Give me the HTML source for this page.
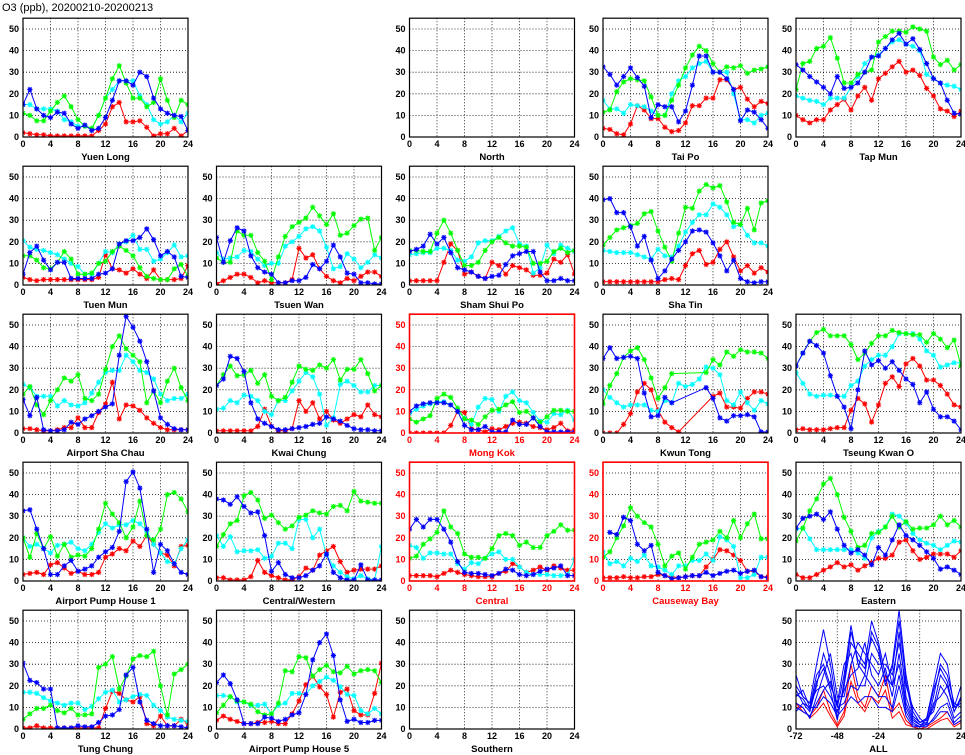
<!DOCTYPE html>
<html><head><meta charset="utf-8">
<style>
html,body{margin:0;padding:0;background:#fff;}
svg{display:block;font-family:"Liberation Sans",sans-serif;}
.tk{font-size:9px;font-weight:bold;fill:#000;}
.nm{font-size:9.5px;font-weight:bold;fill:#000;}
</style></head>
<body>
<svg id="chart" width="965" height="755" viewBox="0 0 965 755">
<text x="2" y="11" style="font-size:11px">O3 (ppb), 20200210-20200213</text>
</svg>
<script>
const seriesColors = ["#ff0000","#00ffff","#00ff00","#0000ff"];
const hours = [0,1,2,3,4,5,6,7,8,9,10,11,12,13,14,15,16,17,18,19,20,21,22,23,24];
const xTicks = [0,4,8,12,16,20,24];
const yTicks = [0,10,20,30,40,50];
const allXTicks = [-72,-48,-24,0,24];
const N = null;

const yuenLongR=[2,1.5,1,1,0.5,0.5,0.5,0.5,0.5,0.5,0.5,3,6,14,16,7,7,7.5,4.5,0.5,1.5,1.5,4,0.5,3];
const yuenLongC=[15,15,13,13,13,12,8,7,5,5,4,10,18,22,26,26,26,19,15,8,6,7,10,7,11];
const yuenLongG=[11,10,7.5,7.5,12,16,19,14,8,5,4,10,18,27,33,25,18,18,14,16,27,17,9,17,15];
const yuenLongB=[15,22,13,10,9,11.5,11,6,4,5.5,3,4,9,17,26,26,24,30,28,18,13,11,10,9.5,3];

const taiPoR=[4,3.5,1.5,1,6,14.5,12.5,8.5,8.5,4.5,2.5,3,6.5,14.5,14.5,18,18,26.5,26.5,22,23,17.5,14,16.5,15.5];
const taiPoC=[17,13,13,11,15,14.5,14,12,10,10,20,26,28,32,34,35,30,30,30,20,8,8,6.5,10,11];
const taiPoG=[11.5,12.5,21,25.5,27,26.5,26,18.5,10,10,17,24,32,38,42,40,34,30,32.5,32,33,29.5,31,31.5,32.5];
const taiPoB=[32.5,29,24,28,32,27.5,23.5,9,15,14,14,7,12,24,37.5,37.5,30,30,27,22,7.5,12.5,11.5,8,4];

const tapMunR=[10,8,6.5,8,8,12.5,15,17.5,12.5,19,23,17,27,29.5,32.5,35,30,31,28.5,22.5,19,13,12,9.5,12];
const tapMunC=[19,18,17,16.5,15,18,18,18,23,28,34,37,38,41,44,45,43,42,40,29,27,25,24,23.5,22];
const tapMunG=[22,34,35,41,42,46,36.5,25,25,29,30,31,44,46.5,49,49,48.5,51,50,49,37,33.5,35.5,31,33.5];
const tapMunB=[33.5,31,28,25.5,23,20,28,22.5,23,25,30,37,37.5,41,45,48,43,45.5,40.5,34,27,25,17,11,10.5];

const tuenMunR=[3.5,2.5,2,2.5,2.5,2.5,2.5,2.5,2.5,2.5,2.5,3.5,14,7.5,7,5.5,7.5,5,3,7,2.5,2.5,2.5,3,9];
const tuenMunC=[20.5,17.5,16.5,16,15,14,12,10,8.5,5,5,10,15.5,15,19,20,23,16.5,16.5,11,12,15,18.5,13,13.5];
const tuenMunG=[13.5,13.5,11.5,8,7.5,10.5,15.5,12,5,5,5.5,10,11,15.5,18,16,13.5,8,4,3,2.5,2.5,7.5,9.5,4];
const tuenMunB=[5,15,18,11.5,7,10.5,10.5,3,3,3,3,5,5.5,7.5,19,20.5,20.5,22,26,21,13.5,15.5,13,4,3.5];

const tsuenWanR=[0.5,2,3.5,5,5,3.5,1,2,1,1,1,2.5,17,12.5,14,7.5,4,2,1,3,2,4,6,6,4];
const tsuenWanC=[15,12,12.5,13,16,15.5,12,9,10,10,18,20,22.5,26,27,25,17.5,7.5,8.5,14.5,12,8,10.5,14,12.5];
const tsuenWanG=[12.5,10.5,10.5,25,23,23,15,11,2.5,13,22.5,27,29,31,36,32,28,33,23,24,27.5,30.5,31,16,22];
const tsuenWanB=[22,10.5,20.5,26.5,25,13.5,8,6,5,1,1,2,2,3.5,9.5,7.5,11,18.5,13,5.5,5,1,1,0.5,0.5];

const shamShuiPoR=[2,2,2,2,2,10.5,19,16,5,6,4,3,10.5,9,5,9,8,7,4.5,4.5,5.5,12,10.5,14,5];
const shamShuiPoC=[14,14.5,15,15,17,17,16,11.5,11,13,19.5,20.5,20.5,22.5,25,26.5,19,18,5.5,8,18.5,14.5,18.5,17,15.5];
const shamShuiPoG=[16,16,15.5,15.5,24,30,24,16,9,9,10.5,16,20,22,19.5,18,18,17.5,10,10,11,15.5,17,15,16];
const shamShuiPoB=[15.5,16.5,18,23.5,19,22,15,8,7,6,4,3,4,4.5,9.5,13.5,14.5,15.5,15.5,6,2,2,3,2,2];

const shaTinR=[1.5,1.5,1.5,1.5,1.5,1.5,1.5,1.5,1.5,2.5,3,2.5,9,14.5,16,9.5,10.5,16.5,20,13,6.5,9,5.5,8,6];
const shaTinC=[16,15.5,15,15,15,14,13,12,16.5,13.5,13,18,24.5,29,32.5,32.5,37.5,36,32.5,27,28,23,19.5,19.5,18];
const shaTinG=[18.5,22,25.5,26.5,27.5,28.5,33,34,25,17.5,11,24,36,35.5,43.5,46.5,45,46,38.5,29,28,35.5,25.5,38,39];
const shaTinB=[39.5,40,33.5,33.5,27,18,22.5,11.5,3,6.5,12,16,20,25,25.5,24.5,19.5,13.5,6.5,11.5,3,1.5,1,1.5,1.5];

const shaChauR=[2,2,1.5,1,1,1.5,2.5,2.5,7,2.5,2.5,9.5,13.5,23.5,6.5,13,12.5,10.5,7,4.5,2.5,1.5,1.5,1.5,1.5];
const shaChauC=[22.5,21,17,17,17,12.5,15,13,12.5,14,18.5,23.5,28,29,29,36,33,29,28,25,18,15,16,16,18];
const shaChauG=[18,21.5,13,8.5,15,20,25.5,24,27,16,15,18,29.5,40,45,39,36,33,14,19.5,14,24,30,21,15];
const shaChauB=[15.5,8,16.5,1.5,1,1,1.5,5,4,6.5,8,10,12,13.5,36,54,49,42.5,33,19.5,7,4,2,1.5,1.5];

const kwaiChungR=[1,1,1,1,1,1,3,11,3,1,1,2,15,10,14,6.5,10,6,4.5,6.5,8.5,7.5,13,8.5,7.5];
const kwaiChungC=[11,11.5,15,14,17.5,17,15,10,8.5,15,15,19.5,24,28,26,18,3.5,7,22.5,24,22,19,19,22,22];
const kwaiChungG=[22,27,31,26.5,27,29,23,27,17,15,16.5,23.5,31,29.5,29,31.5,30,34,24.5,29.5,29.5,34,27.5,19.5,22];
const kwaiChungB=[22,25,35.5,34.5,28.5,14,6.5,4.5,3,1.5,1.5,2,2.5,3,4,4.5,7.5,6.5,5.5,3.5,2,1.5,1.5,1,1];

const mongKokR=[0,0,0,0,0,0,3.5,10,9.5,2,1.5,0.5,2,1.5,3,4.5,5,4.5,3,2.5,1.5,2.5,4.5,1,1.5];
const mongKokC=[9,11,12.5,13.5,14.5,14.5,13,10,7,4,12,16,15.5,10,17,19,15,14,9.5,5.5,5,9,8.5,10.5,6];
const mongKokG=[6.5,5,6.5,8,16,18,16.5,11.5,6.5,6,4,7.5,10.5,11,13,14.5,9.5,10,7,5,7.5,10.5,10.5,10,10];
const mongKokB=[10,12.5,13.5,14,14,14,13,10,3.5,1.5,1.5,3,0.5,0.5,0.5,6,4,4,7,3,0.5,0.5,0.5,0.5,0.5];

const kwunTongR=[0,0,0,4,9,19,23,20,10.5,5,2.5,0.5,N,N,N,N,17,18.5,12,12,11.5,16,19,19,18];
const kwunTongC=[20,16.5,14,12,13,13,13,10.5,10,15,14,23,21.5,22.5,25,30.5,30,27,15,13,19,14,10.5,15,13.5];
const kwunTongG=[13.5,22,27.5,35,38,39.5,34,25.5,16,21,27.5,N,N,N,N,28,34,31.5,37.5,35.5,38.5,37.5,37.5,37,34.5];
const kwunTongB=[34.5,39.5,34.5,35,35.5,34.5,18.5,7.5,8,16.5,14,N,N,N,N,21,16,7,5.5,8,8,8.5,7.5,0.5,0.5];

const tkoR=[1.5,2,1.5,1.5,1.5,2,2.5,2.5,10.5,16,13.5,5,13,23,26,21.5,32,34.5,31,24.5,24.5,22,18,13,12];
const tkoC=[28,23,18,17,17.5,17.5,17,17,22,24,31,34,36,36,40,46,46,46,43.5,38,36,30.5,31.5,32.5,32.5];
const tkoG=[31,37,42.5,46.5,48,45,45,45,41,34,37,41.5,45,45,47.5,46.5,46,45.5,45.5,42,46,43.5,39.5,43,31];
const tkoB=[31,37,42.5,40.5,37,26.5,17,12,2,20,38,31.5,33.5,30,33,29,25,22.5,14,19,11,7.5,7.5,5.5,1.5];

const ph1R=[3,3.5,4,3,7.5,8.5,6,3.5,4.5,3,3,4,11,12.5,15,14,18.5,16,21,17,13,12,7,16,16.5];
const ph1C=[20,16,17,15,13,16.5,17,18,15,14,17,22.5,26.5,24.5,26,26,28,26.5,23,17,13,9,8,15,19];
const ph1G=[20,11,22,15,20.5,11.5,17,11,12,11.5,15,24,36,31,27,20,25,37,21,19,24,40,41,38,32];
const ph1B=[32.5,33,24,15,3,3,7,9.5,4.5,5.5,7,11,13.5,15.5,23,46,50.5,43,24,4,17,14,8,4,3];

const cwR=[1.5,1.5,0.5,0.5,0.5,2,9.5,4,2.5,1.5,0.5,0.5,2,6,5,12,14,16,9,4,5,5.5,5.5,5.5,7];
const cwC=[21,16,20.5,13.5,14,14,14.5,10.5,11.5,17.5,17.5,15,28.5,28.5,20,24,12,7,4,2,1,2.5,1,0.5,16];
const cwG=[16,21.5,26.5,28,39.5,41,37.5,29,30.5,27,24,25.5,29.5,30.5,32.5,31.5,31,34.5,35,32.5,41.5,37,36.5,36,36];
const cwB=[38,37.5,35.5,39,34.5,31.5,32,21,4.5,8.5,3,1.5,1.5,2.5,5,7,12.5,4,1.5,0.5,0.5,7.5,0.5,0.5,0.5];

const centralR=[2.5,2.5,2.5,2.5,2,3.5,5,4,3,2.5,2,2,2,3.5,4.5,8,6.5,4,5,6.5,5,7,6,5,5];
const centralC=[16.5,15.5,10.5,13,13,12.5,12.5,8,5.5,8.5,8,10.5,12.5,13.5,10,10,6.5,4,3,3,3,2.5,2.5,3,10];
const centralG=[10.5,11.5,17,19.5,22.5,32.5,25,22,12.5,11,11,10.5,15,21,22,21,16.5,18,15.5,15.5,21,23,26,23.5,23.5];
const centralB=[24,28.5,25,28.5,28.5,24,18,9,4,3.5,3.5,3,2.5,3.5,5.5,5,3,2.5,3,4.5,5.5,6,7,2.5,2.5];

const cbR=[1.5,1.5,1.5,2,1.5,1.5,2,2,3,2.5,2,1.5,2,2.5,2.5,6.5,10,14.5,14,12,9.5,4.5,4.5,2,2];
const cbC=[13.5,8,9,7,10.5,9,12,7,6.5,5,3,7,7,9.5,9.5,12.5,9.5,20.5,19,16,1.5,1.5,3,11,11];
const cbG=[11,13.5,20,25.5,34,30,27,25,17,7,11.5,13,5.5,11,17,18,19,23,20,28,20,26.5,31,19.5,19.5];
const cbB=[N,22.5,21.5,29.5,28,17,14,16.5,4,2.5,1,1.5,2,2.5,2.5,4,2.5,3.5,4.5,5,3.5,4.5,5,2,1.5];

const easternR=[3,1.5,1.5,3,5,6.5,8.5,6.5,7.5,5,7,8.5,10.5,10.5,12,18,19,14,10,11,12.5,12.5,12.5,11,14];
const easternC=[24,24.5,19.5,14.5,14.5,14.5,14.5,14.5,14.5,13,10.5,20,23,25,31,30,27,22,19,17.5,16.5,14.5,16.5,18.5,18];
const easternG=[18.5,24.5,32.5,38,45,47.5,40,29.5,23,15.5,16.5,22,22.5,25,30,25,27.5,24,24.5,24.5,26,30,26,28,25];
const easternB=[24.5,29,30,31,28.5,32,24,16.5,13,14.5,12,7.5,15.5,12,19,26,21,19,16.5,13.5,10.5,5.5,6.5,5,3];

const tungChungR=[0.5,0.5,1.5,0.5,0.5,0.5,0.5,0.5,0.5,0.5,0.5,0.5,9.5,17.5,16.5,13.5,12.5,15,2.5,1.5,6,1.5,1.5,4.5,2.5];
const tungChungC=[17,17,16.5,14.5,13,12,11,12,12,9,10.5,14,17,18,12.5,13.5,15,16,15.5,11,8.5,5.5,4.5,4,3.5];
const tungChungG=[4.5,7,9.5,9.5,11,8.5,7.5,9.5,6.5,6.5,7,28.5,30,33.5,18.5,24.5,32.5,34,33.5,36,20,6.5,25.5,27.5,30];
const tungChungB=[30.5,22.5,21.5,18.5,18.5,0.5,0.5,0.5,1.5,1,1,3,6,6.5,9,25,28.5,12.5,4,2.5,1.5,1.5,1.5,1,0.5];

const ph5R=[4,6,4.5,3.5,2.5,2.5,3,3,3.5,2.5,2.5,7,13,20.5,24.5,19.5,16,5.5,17,18.5,8.5,6.5,6.5,16.5,30.5];
const ph5C=[15.5,15.5,15,12.5,12.5,11,11,11.5,7,11,12,16.5,16.5,16,20,22,24,22.5,19.5,16,15.5,8.5,7,9.5,7];
const ph5G=[7.5,11,15,13,12.5,11.5,8,6.5,7,12,27,26.5,33.5,33,24.5,27.5,29.5,26.5,26,29,25.5,27,27.5,27,21.5];
const ph5B=[21.5,25,21,13.5,2.5,2.5,2.5,5.5,5,3.5,4.5,6.5,7.5,16,32,40,44,34,13.5,3.5,4.5,3,3,4,4];

// ALL panel: hours -72..24 every 4h
const allHours=[-72,-68,-64,-60,-56,-52,-48,-44,-40,-36,-32,-28,-24,-20,-16,-12,-8,-4,0,4,8,12,16,20,24];
const allB1=[25,15,12,30,46,30,10,25,48,30,25,45,38,20,30,55,25,8,3,5,20,35,30,10,20];
const allB2=[18,12,8,20,35,25,5,20,40,35,30,50,40,25,20,45,15,5,2,3,10,25,20,8,15];
const allB3=[15,18,10,25,30,20,12,30,35,20,20,35,30,30,25,40,20,10,5,2,15,30,25,12,10];
const allB4=[12,10,5,15,25,35,15,15,30,40,35,30,25,35,20,30,10,3,1,5,8,20,15,5,8];
const allB5=[20,15,12,18,20,15,8,18,25,28,40,25,20,28,15,35,12,4,2,2,12,15,20,10,12];
const allB6=[10,8,6,12,18,22,10,12,20,18,25,20,15,15,10,25,8,2,1,1,5,10,12,3,6];
const allB7=[16,14,9,22,28,18,4,22,45,32,28,42,35,22,28,50,22,6,3,4,18,28,22,8,14];
const allB8=[8,12,10,10,15,12,6,10,15,12,15,15,10,10,8,20,6,1,1,2,4,8,8,2,4];
const allR1=[12,8,6,10,18,8,2,8,30,15,10,20,15,25,8,12,4,1,0,1,3,5,8,2,4];
const allR2=[10,10,5,8,12,6,1,6,22,12,8,15,12,18,5,8,2,1,0,0,2,4,5,1,3];

const panels=[
 {name:"Yuen Long",col:0,row:0,data:[yuenLongR,yuenLongC,yuenLongG,yuenLongB]},
 {name:"North",col:2,row:0,data:[]},
 {name:"Tai Po",col:3,row:0,data:[taiPoR,taiPoC,taiPoG,taiPoB]},
 {name:"Tap Mun",col:4,row:0,data:[tapMunR,tapMunC,tapMunG,tapMunB]},
 {name:"Tuen Mun",col:0,row:1,data:[tuenMunR,tuenMunC,tuenMunG,tuenMunB]},
 {name:"Tsuen Wan",col:1,row:1,data:[tsuenWanR,tsuenWanC,tsuenWanG,tsuenWanB]},
 {name:"Sham Shui Po",col:2,row:1,data:[shamShuiPoR,shamShuiPoC,shamShuiPoG,shamShuiPoB]},
 {name:"Sha Tin",col:3,row:1,data:[shaTinR,shaTinC,shaTinG,shaTinB]},
 {name:"Airport Sha Chau",col:0,row:2,data:[shaChauR,shaChauC,shaChauG,shaChauB]},
 {name:"Kwai Chung",col:1,row:2,data:[kwaiChungR,kwaiChungC,kwaiChungG,kwaiChungB]},
 {name:"Mong Kok",col:2,row:2,red:true,data:[mongKokR,mongKokC,mongKokG,mongKokB]},
 {name:"Kwun Tong",col:3,row:2,data:[kwunTongR,kwunTongC,kwunTongG,kwunTongB]},
 {name:"Tseung Kwan O",col:4,row:2,data:[tkoR,tkoC,tkoG,tkoB]},
 {name:"Airport Pump House 1",col:0,row:3,data:[ph1R,ph1C,ph1G,ph1B]},
 {name:"Central/Western",col:1,row:3,data:[cwR,cwC,cwG,cwB]},
 {name:"Central",col:2,row:3,red:true,data:[centralR,centralC,centralG,centralB]},
 {name:"Causeway Bay",col:3,row:3,red:true,data:[cbR,cbC,cbG,cbB]},
 {name:"Eastern",col:4,row:3,data:[easternR,easternC,easternG,easternB]},
 {name:"Tung Chung",col:0,row:4,data:[tungChungR,tungChungC,tungChungG,tungChungB]},
 {name:"Airport Pump House 5",col:1,row:4,data:[ph5R,ph5C,ph5G,ph5B]},
 {name:"Southern",col:2,row:4,data:[]},
 {name:"ALL",col:4,row:4,all:true,data:[]}
];

const svg=document.getElementById('chart');
const NS="http://www.w3.org/2000/svg";
const colLeft=[23,216.5,409.5,603,796];
const rowBottom=[137,285,433,581,729];
const PW=165, PH=118.8, YMAX=55;
function mk(tag,attrs,parent){const e=document.createElementNS(NS,tag);for(const k in attrs)e.setAttribute(k,attrs[k]);parent.appendChild(e);return e;}
function slug(s){return s.toLowerCase().replace(/[^a-z0-9]+/g,'-').replace(/-$/,'');}

panels.forEach(p=>{
  const L=colLeft[p.col], B=rowBottom[p.row], T=B-PH, R=L+PW;
  const xmin=p.all?-72:0, xmax=24;
  const xs=v=>L+(v-xmin)/(xmax-xmin)*PW;
  const ys=v=>B-v/YMAX*PH;
  const fc=p.red?"#ff0000":"#000000";
  const g=mk('g',{},svg);
  
  
  const xt=p.all?allXTicks:xTicks;
  xt.forEach(t=>{ if(t>xmin&&t<xmax){const l=mk('line',{x1:xs(t),x2:xs(t),y1:T,y2:B,stroke:'#000','stroke-width':0.8,'stroke-dasharray':'1,2'},g);
    }
    const tx=mk('text',{x:xs(t),y:B+10,'text-anchor':'middle',class:'tk'},g);tx.textContent=t;
    
    if(p.red) tx.style.fill='#ff0000';
  });
  yTicks.forEach(t=>{ if(t>0){const l=mk('line',{x1:L,x2:R,y1:ys(t),y2:ys(t),stroke:'#000','stroke-width':0.8,'stroke-dasharray':'1,2'},g);
    }
    const tx=mk('text',{x:L-4,y:ys(t)+3,'text-anchor':'end',class:'tk'},g);tx.textContent=t;
    
    if(p.red) tx.style.fill='#ff0000';
  });
  const clipId='c'+p.col+'_'+p.row;
  const cp=mk('clipPath',{id:clipId},g);mk('rect',{x:L,y:T,width:PW,height:PH},cp);
  const dg=mk('g',{'clip-path':'url(#'+clipId+')'},g);
  function drawLine(xv,vals,color,markers,sw){
    let d='';let pen=false;
    vals.forEach((v,i)=>{ if(v===null)return; d+=(pen?'L':'M')+xs(xv[i]).toFixed(1)+' '+ys(v).toFixed(1);pen=true;});
    const path=mk('path',{d:d,fill:'none',stroke:color,'stroke-width':sw},dg);
    
    
    if(markers){
      vals.forEach((v,i)=>{ if(v===null)return; const x=xs(xv[i]),y=ys(v),r=2.6;
        const m=mk('path',{d:`M${x-r} ${y}H${x+r}M${x} ${y-r}V${y+r}M${x-r*0.75} ${y-r*0.75}L${x+r*0.75} ${y+r*0.75}M${x-r*0.75} ${y+r*0.75}L${x+r*0.75} ${y-r*0.75}`,stroke:color,'stroke-width':1.1},dg);
        
        
      });
    }
  }
  p.data.forEach((s,si)=>drawLine(hours,s,seriesColors[si],true,1));
  if(p.all){
    [allR1,allR2].forEach(s=>drawLine(allHours,s,'#ff0000',false,1));
    [allB1,allB2,allB3,allB4,allB5,allB6,allB7,allB8].forEach(s=>drawLine(allHours,s,'#0000ff',false,1));
  }
  const fr=mk('rect',{x:L,y:T,width:PW,height:PH,fill:'none',stroke:fc,'stroke-width':p.red?1.6:1.2},g);
  
  
  const nm=mk('text',{x:L+PW/2,y:B+23,'text-anchor':'middle',class:'nm'},g);
  nm.textContent=p.name;
  if(p.red) nm.style.fill='#ff0000';
  
  
});
</script>
</body></html>
